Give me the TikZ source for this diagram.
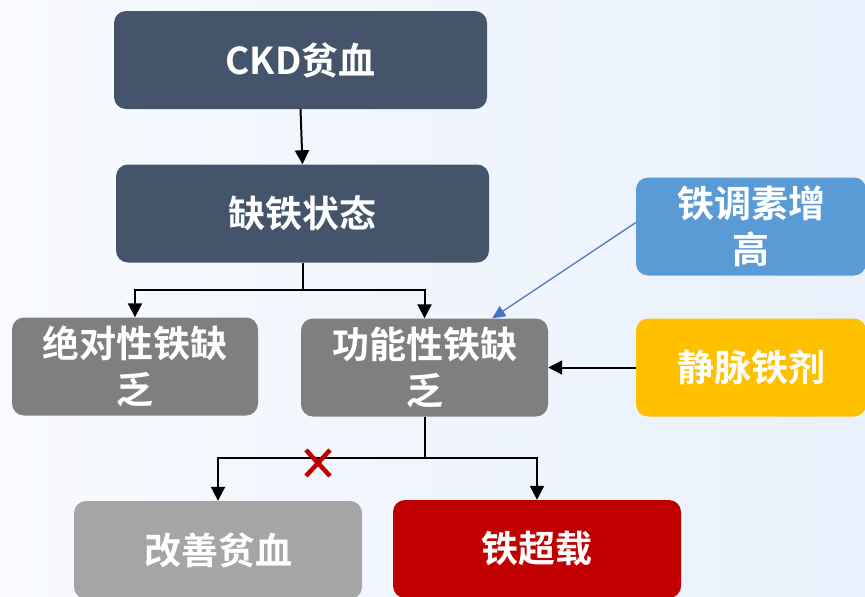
\documentclass[tikz,border=0pt]{standalone}
\usepackage{fontspec}
\newfontfamily\cjk{Noto Sans CJK SC}[BoldFont={* Bold}]
\usetikzlibrary{arrows.meta}
\definecolor{slate}{HTML}{44546A}
\definecolor{gray1}{HTML}{7F7F7F}
\definecolor{gray2}{HTML}{A5A5A5}
\definecolor{hepblue}{HTML}{5B9BD5}
\definecolor{ivgold}{HTML}{FFC000}
\definecolor{ovred}{HTML}{C00000}
\definecolor{arrblue}{HTML}{4472C4}
\definecolor{bgl}{HTML}{F8FAFE}
\definecolor{bgr}{HTML}{E9F1FC}
\begin{document}
\begin{tikzpicture}[x=1pt,y=-1pt,
  box/.style={rounded corners=12pt, draw=none, text=white,
    font=\cjk\bfseries\fontsize{37}{46}\selectfont, align=center,
    inner sep=0pt, minimum height=98pt},
  conn/.style={line width=2pt, draw=black},
  arr/.style={conn, -{Triangle[width=14pt,length=14pt]}}
]
\useasboundingbox (0,0) rectangle (865,597);
\shade[left color=bgl, right color=bgr] (0,0) rectangle (865,597);
\clip (0,0) rectangle (865,597);
\node[box, fill=slate, minimum width=373pt] (ckd) at (300.5,60) {CKD贫血};
\node[box, fill=slate, minimum width=373pt] (qt) at (302.5,213.5) {缺铁状态};
\node[box, fill=gray1, minimum width=246pt] (abs) at (135,366.5) {绝对性铁缺\\乏};
\node[box, fill=gray1, minimum width=247pt] (func) at (424.5,367.5) {功能性铁缺\\乏};
\node[box, fill=hepblue, minimum width=230pt] (hep) at (751,226.5) {铁调素增\\高};
\node[box, fill=ivgold, minimum width=230pt] (iv) at (751,367.5) {静脉铁剂};
\node[box, fill=gray2, minimum width=288pt] (imp) at (218,550) {改善贫血};
\node[box, fill=ovred, minimum width=288pt] (ov) at (537,549) {铁超载};
\draw[arr] (ckd.south) -- (qt.north);
\draw[conn] (qt.south) -- ++(0,27.5) coordinate (j1);
\draw[arr] (j1) -| (abs.north);
\draw[arr] (j1) -| (func.north);
\draw[conn] (func.south) -- ++(0,41.5) coordinate (j2);
\draw[arr] (j2) -| (imp.north);
\draw[arr] (j2) -| (ov.north);
\draw[arr] (iv.west) -- (func.east);
\draw[arrblue, line width=1.2pt, -{Triangle[width=12pt,length=13pt]}]
  ([yshift=4pt]hep.west) -- ([xshift=-56pt]func.north east);
\coordinate (xm) at (318,463);
\draw[ovred, line width=4.5pt] ([shift={(-12,-13)}]xm) -- ([shift={(12,13)}]xm)
  ([shift={(12,-13)}]xm) -- ([shift={(-12,13)}]xm);
\end{tikzpicture}
\end{document}
